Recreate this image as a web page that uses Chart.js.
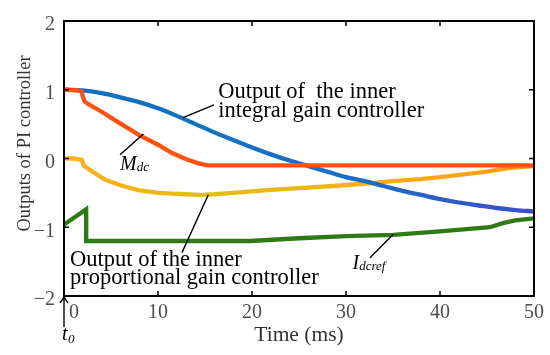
<!DOCTYPE html>
<html>
<head>
<meta charset="utf-8">
<script src="https://cdn.jsdelivr.net/npm/chart.js@4.4.1/dist/chart.umd.min.js"></script>
<style>
  html, body { margin: 0; padding: 0; background: #fff; }
  #wrap { width: 550px; height: 355px; }
</style>
</head>
<body>
<div id="wrap"><canvas id="piChart" width="550" height="355"></canvas></div>
<script>
// values (time in ms)
const integralTime = [0, 2, 4, 6, 8, 10, 12, 14, 16, 18, 20, 22, 24, 26, 28, 30, 32, 34, 36, 38, 40, 42, 44, 46, 48, 50];
const integralOutput = [1.0, 0.99, 0.95, 0.89, 0.82, 0.73, 0.62, 0.5, 0.38, 0.27, 0.16, 0.06, -0.03, -0.11, -0.19, -0.27, -0.33, -0.4, -0.47, -0.53, -0.59, -0.64, -0.68, -0.72, -0.75, -0.77];

const mdcTime = [0, 1.5, 1.9, 2.0, 2.2, 2.6, 4, 5.5, 8, 10, 11.5, 13, 14.3, 15.3, 50];
const mdcOutput = [1.0, 0.99, 0.97, 0.9, 0.83, 0.79, 0.68, 0.55, 0.34, 0.2, 0.08, -0.01, -0.07, -0.1, -0.1];

const propTime = [0, 1, 1.9, 2.1, 2.4, 3, 4.4, 6, 7.9, 10, 11.5, 13, 14.5, 16, 18, 21.6, 25, 28.6, 32.6, 35, 37.9, 40, 43.2, 45, 46.7, 48, 50];
const propOutput = [0, 0, -0.02, -0.1, -0.13, -0.19, -0.31, -0.39, -0.46, -0.5, -0.51, -0.52, -0.53, -0.52, -0.5, -0.46, -0.43, -0.4, -0.36, -0.33, -0.3, -0.27, -0.22, -0.19, -0.15, -0.13, -0.11];

const idcrefTime = [0, 2.35, 2.36, 19.8, 25, 30, 35, 40, 45.3, 46.7, 48, 50];
const idcrefOutput = [-0.96, -0.74, -1.2, -1.2, -1.16, -1.13, -1.11, -1.06, -1.0, -0.94, -0.9, -0.87];

const xTickValues = [0, 10, 20, 30, 40, 50];
const yTickValues = [-2, -1, 0, 1, 2];
const innerTicksX = [10, 20, 30, 40];
const innerTicksY = [-1, 0, 1];

const serif = "'Liberation Serif', 'DejaVu Serif', serif";

function toPoints(xs, ys) {
    return xs.map((x, i) => ({ x: x, y: ys[i] }));
}

function hGradient(stops) {
    return function (context) {
        const { ctx, chartArea } = context.chart;
        if (!chartArea) return stops[0][1];
        const g = ctx.createLinearGradient(chartArea.left, 0, chartArea.right, 0);
        stops.forEach(s => g.addColorStop(s[0], s[1]));
        return g;
    };
}

// annotation text + pointer lines, anchored in data units
const notes = [
    { lines: ['Output of  the inner', 'integral gain controller'], x: 16.4, y: 0.875 },
    { lines: ['Output of the inner', 'proportional gain controller'], x: 0.64, y: -1.563 }
];
const pointers = [
    [12.66, 0.595, 15.96, 0.78],
    [5.96, 0.054, 8.44, 0.356],
    [12.55, -1.369, 15.35, -0.528],
    [32.55, -1.445, 35.03, -1.101]
];

const framePlugin = {
    id: 'frame',
    afterDatasetsDraw(chart) {
        const { ctx, chartArea: a } = chart;
        const xs = chart.scales.x, ys = chart.scales.y;
        ctx.save();

        // box and inward ticks
        ctx.strokeStyle = '#000';
        ctx.lineWidth = 2;
        ctx.strokeRect(a.left, a.top, a.right - a.left, a.bottom - a.top);
        ctx.lineWidth = 1.5;
        ctx.beginPath();
        innerTicksX.forEach(v => {
            const p = xs.getPixelForValue(v);
            ctx.moveTo(p, a.top); ctx.lineTo(p, a.top + 5);
            ctx.moveTo(p, a.bottom); ctx.lineTo(p, a.bottom - 5);
        });
        innerTicksY.forEach(v => {
            const p = ys.getPixelForValue(v);
            ctx.moveTo(a.left, p); ctx.lineTo(a.left + 5, p);
            ctx.moveTo(a.right, p); ctx.lineTo(a.right - 5, p);
        });
        ctx.stroke();

        // pointer lines
        ctx.lineWidth = 1.4;
        ctx.beginPath();
        pointers.forEach(p => {
            ctx.moveTo(xs.getPixelForValue(p[0]), ys.getPixelForValue(p[1]));
            ctx.lineTo(xs.getPixelForValue(p[2]), ys.getPixelForValue(p[3]));
        });
        ctx.stroke();

        // text notes
        ctx.fillStyle = '#000';
        ctx.textAlign = 'left';
        ctx.textBaseline = 'alphabetic';
        ctx.font = '22.5px ' + serif;
        notes.forEach(n => {
            const px = xs.getPixelForValue(n.x), py = ys.getPixelForValue(n.y);
            n.lines.forEach((t, i) => ctx.fillText(t, px, py + i * 18.5));
        });

        // italic symbols with subscripts
        function sym(big, sub, x, y) {
            const px = xs.getPixelForValue(x), py = ys.getPixelForValue(y);
            ctx.font = 'italic 20px ' + serif;
            ctx.fillText(big, px, py);
            const w = ctx.measureText(big).width;
            ctx.font = 'italic 13px ' + serif;
            ctx.fillText(sub, px + w, py + 1);
        }
        sym('M', 'dc', 5.96, -0.165);
        sym('I', 'dcref', 30.7, -1.613);

        // t0 arrow under the origin
        const ox = xs.getPixelForValue(0), oy = ys.getPixelForValue(-2);
        ctx.lineWidth = 1.4;
        ctx.beginPath();
        ctx.moveTo(ox, oy + 31); ctx.lineTo(ox, oy + 1);
        ctx.moveTo(ox - 4, oy + 7); ctx.lineTo(ox, oy + 1); ctx.lineTo(ox + 4, oy + 7);
        ctx.stroke();
        ctx.font = 'italic 20px ' + serif;
        ctx.fillText('t', ox - 2, oy + 44);
        ctx.font = 'italic 13px ' + serif;
        ctx.fillText('0', ox + 4, oy + 47);

        // axis titles
        ctx.fillStyle = '#333';
        ctx.textAlign = 'center';
        ctx.font = '21.5px ' + serif;
        ctx.fillText('Time (ms)', (a.left + a.right) / 2, a.bottom + 45);
        ctx.font = '18.5px ' + serif;
        ctx.translate(30, 143.5);
        ctx.rotate(-Math.PI / 2);
        ctx.fillText('Outputs of PI controller', 0, 0);
        ctx.restore();
    }
};

const ctx = document.getElementById('piChart').getContext('2d');
const chart = new Chart(ctx, {
    type: 'line',
    data: {
        datasets: [
            {
                label: 'Mdc',
                data: toPoints(mdcTime, mdcOutput),
                borderColor: '#ff5210',
                borderWidth: 4.3,
                order: 1
            },
            {
                label: 'Integral',
                data: toPoints(integralTime, integralOutput),
                borderColor: hGradient([[0, '#0c72c0'], [0.6, '#1a6fc4'], [1, '#3b4fcc']]),
                borderWidth: 4.3,
                cubicInterpolationMode: 'monotone',
                order: 2
            },
            {
                label: 'Proportional',
                data: toPoints(propTime, propOutput),
                borderColor: hGradient([[0, '#ffae1c'], [0.12, '#f5b216'], [0.3, '#dfc014'], [0.5, '#e8b818'], [0.75, '#ffa816'], [1, '#ff9c12']]),
                borderWidth: 4.3,
                order: 3
            },
            {
                label: 'Idcref',
                data: toPoints(idcrefTime, idcrefOutput),
                borderColor: '#2f7a14',
                borderWidth: 4.3,
                order: 4
            }
        ]
    },
    options: {
        responsive: false,
        animation: false,
        devicePixelRatio: 1,
        layout: { padding: { top: 17, right: 16, left: 0, bottom: 0 } },
        elements: { point: { radius: 0 }, line: { tension: 0 } },
        plugins: { legend: { display: false }, tooltip: { enabled: false } },
        scales: {
            x: {
                type: 'linear',
                min: 0,
                max: 50,
                afterBuildTicks: s => { s.ticks = xTickValues.map(v => ({ value: v })); },
                afterFit: s => { s.height = 59; },
                grid: { display: false, drawTicks: false },
                border: { display: false },
                ticks: {
                    maxRotation: 0,
                    autoSkip: false,
                    padding: 5,
                    color: '#4d4d4d',
                    font: { family: serif, size: 20 },
                    callback: v => v === 0 ? '\u2002\u20020' : String(v)
                }
            },
            y: {
                min: -2,
                max: 2,
                afterBuildTicks: s => { s.ticks = yTickValues.map(v => ({ value: v })); },
                afterFit: s => { s.width = 64; },
                grid: { display: false, drawTicks: false },
                border: { display: false },
                ticks: {
                    padding: 9,
                    labelOffset: 4,
                    color: '#4d4d4d',
                    font: { family: serif, size: 20 },
                    callback: v => v < 0 ? '\u2212' + Math.abs(v) : String(v)
                }
            }
        }
    },
    plugins: [framePlugin]
});
</script>
</body>
</html>
